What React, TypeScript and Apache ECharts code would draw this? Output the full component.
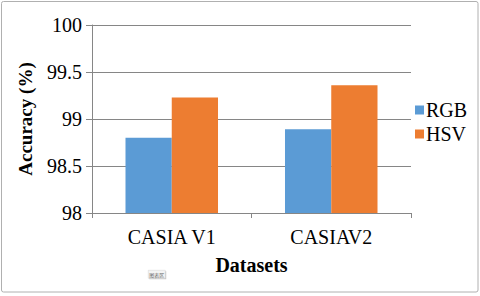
import React, { useEffect, useRef } from "react";
import * as echarts from "echarts";

const categories = ["CASIA V1", "CASIAV2"];
const rgbValues = [98.8, 98.89];
const hsvValues = [99.23, 99.36];
const yMin = 98;
const yMax = 100;
const yInterval = 0.5;

const serif = "Liberation Serif";

export default function App() {
  const ref = useRef<HTMLDivElement>(null);
  useEffect(() => {
    if (!ref.current) return;
    const chart = echarts.init(ref.current, null, { renderer: "svg" });
    chart.setOption({
      animation: false,
      backgroundColor: "#ffffff",
      textStyle: { fontFamily: serif },
      grid: { left: 92, right: 69, top: 25, bottom: 83, containLabel: false },
      legend: {
        orient: "vertical",
        left: 415,
        top: 100,
        itemWidth: 9,
        itemHeight: 9,
        itemGap: 4,
        padding: 0,
        icon: "rect",
        textStyle: { fontFamily: serif, fontSize: 20, color: "#000", padding: [0, 0, 0, -3] },
        data: ["RGB", "HSV"],
      },
      xAxis: {
        type: "category",
        data: categories,
        name: "Datasets",
        nameLocation: "middle",
        nameGap: 42,
        nameTextStyle: { fontFamily: serif, fontSize: 20, fontWeight: "bold", color: "#000" },
        axisLine: { lineStyle: { color: "#868686", width: 1 } },
        axisTick: { show: true, length: 5, lineStyle: { color: "#868686" } },
        axisLabel: { fontFamily: serif, fontSize: 20, color: "#000", margin: 14 },
      },
      yAxis: {
        type: "value",
        min: yMin,
        max: yMax,
        interval: yInterval,
        name: "Accuracy (%)",
        nameLocation: "middle",
        nameGap: 57,
        nameTextStyle: { fontFamily: serif, fontSize: 19, fontWeight: "bold", color: "#000" },
        axisLine: { show: true, lineStyle: { color: "#868686", width: 1 } },
        axisTick: { show: true, length: 6, lineStyle: { color: "#868686" } },
        axisLabel: {
          fontFamily: serif,
          fontSize: 20,
          color: "#000",
          margin: 10,
          formatter: (v: number) => String(Math.round(v * 10) / 10),
        },
        splitLine: { show: true, lineStyle: { color: "#868686", width: 1 } },
      },
      series: [
        {
          name: "RGB",
          type: "bar",
          data: rgbValues,
          itemStyle: { color: "#5B9BD5" },
          barGap: "0%",
          barCategoryGap: "42%",
        },
        {
          name: "HSV",
          type: "bar",
          data: hsvValues,
          itemStyle: { color: "#ED7D31" },
          barGap: "0%",
          barCategoryGap: "42%",
        },
      ],
      graphic: [
        {
          type: "rect",
          shape: { x: 1.5, y: 1.5, width: 476.5, height: 290.5, r: 2 },
          style: { fill: "none", stroke: "#b0b0b0", lineWidth: 1 },
          silent: true,
        },
        {
          type: "group",
          left: 148,
          top: 270,
          children: [
            {
              type: "rect",
              shape: { x: 1, y: 1, width: 17, height: 8 },
              style: { fill: "#c8c8c8" },
            },
            {
              type: "rect",
              shape: { x: 0, y: 0, width: 17, height: 8 },
              style: { fill: "#f4f4f4", stroke: "#d0d0d0", lineWidth: 0.5 },
            },
            {
              type: "text",
              x: 8.5,
              y: 4,
              style: {
                text: "图表区",
                fontSize: 5,
                fill: "#666",
                align: "center",
                verticalAlign: "middle",
                fontFamily: "Noto Sans CJK SC",
              },
            },
          ],
        },
      ],
    });
    return () => chart.dispose();
  }, []);
  return (
    <div
      ref={ref}
      style={{ position: "fixed", left: 0, top: 0, width: 480, height: 296 }}
    />
  );
}
